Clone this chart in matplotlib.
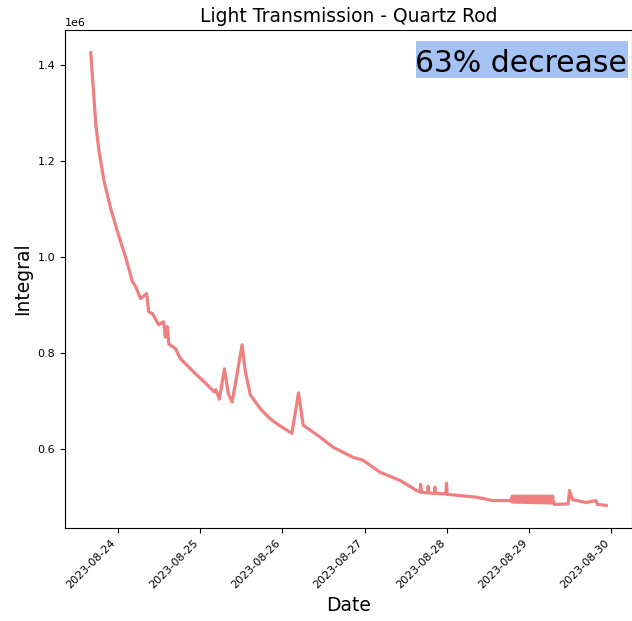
import matplotlib
matplotlib.use("Agg")
import matplotlib.pyplot as plt
import matplotlib.dates as mdates
from matplotlib.patches import Rectangle
import pandas as pd

# hours after 2023-08-24 00:00 and integral (units of 1e6)
hours = [-7.85, -7.07, -6.40, -5.44, -3.99, -2.04, -0.09, 2.33, 4.28, 5.24,
         6.69, 8.44, 9.02, 10.18, 11.93, 13.38, 13.9, 14.46, 14.9, 16.87,
         18.33, 22.11, 26.09, 28.2, 28.6, 29.67, 31.13, 32.29, 33.37, 34.33,
         36.28, 37.24, 38.69, 41.6, 44.51, 47.42, 50.82, 52.74, 54.11, 59.05,
         62.84, 68.65, 71.56, 76.51, 82.33, 87.19, 88.2, 88.35, 88.6, 90.4,
         90.56, 90.75, 92.35, 92.51, 92.7, 95.75, 95.91, 96.1, 104.64, 109.38,
         114.33, 114.9]
integral = [1.425, 1.346, 1.277, 1.220, 1.158, 1.101, 1.053, 0.999, 0.949, 0.938,
            0.913, 0.924, 0.886, 0.882, 0.859, 0.865, 0.833, 0.855, 0.819, 0.809,
            0.788, 0.761, 0.734, 0.719, 0.724, 0.704, 0.767, 0.715, 0.698, 0.736,
            0.817, 0.761, 0.713, 0.684, 0.663, 0.648, 0.633, 0.717, 0.650, 0.625,
            0.604, 0.583, 0.577, 0.552, 0.535, 0.514, 0.511, 0.527, 0.510, 0.509,
            0.523, 0.509, 0.508, 0.521, 0.508, 0.507, 0.529, 0.506, 0.500, 0.493,
            0.493, 0.497]

# noisy stretch on the 29th: readings jump between an upper and lower level
band_hours = [114.9, 120.8, 126.8]
band_hi = [0.503, 0.503, 0.503]
band_lo = [0.491, 0.490, 0.489]

tail_hours = [126.8, 127.4, 131.4, 131.8, 132.65, 136.6, 139.55, 139.9, 142.5]
tail_integral = [0.496, 0.485, 0.486, 0.514, 0.495, 0.489, 0.493, 0.485, 0.483]

t0 = pd.Timestamp("2023-08-24")


def to_times(h):
    return t0 + pd.to_timedelta(h, unit="h")


line_color = "lightcoral"
lw = 2.3

fig = plt.figure(figsize=(6.32, 6.21), dpi=100)
ax = fig.add_axes([65 / 632, 93 / 621, 567 / 632, 498 / 621])

ax.plot(to_times(hours), [v * 1e6 for v in integral], color=line_color, linewidth=lw)
ax.fill_between(to_times(band_hours), [v * 1e6 for v in band_lo],
                [v * 1e6 for v in band_hi], color=line_color, linewidth=lw,
                edgecolor=line_color)
ax.plot(to_times(tail_hours), [v * 1e6 for v in tail_integral], color=line_color, linewidth=lw)

ax.set_title("Light Transmission - Quartz Rod", fontsize=13.5)
ax.set_xlabel("Date", fontsize=13.5)
ax.set_ylabel("Integral", fontsize=13.5)

ax.xaxis.set_major_locator(mdates.DayLocator())
ax.xaxis.set_major_formatter(mdates.DateFormatter("%Y-%m-%d"))
ax.tick_params(labelsize=8)
ax.yaxis.get_offset_text().set_fontsize(8)
plt.setp(ax.get_xticklabels(), rotation=45, ha="right")

# highlighted annotation in the top right corner
ax.add_patch(Rectangle((0.619, 0.904), 0.374, 0.073, transform=ax.transAxes,
                       facecolor="#a4c2f4", edgecolor="none", zorder=3))
ax.text(0.991, 0.916, "63% decrease", transform=ax.transAxes,
        ha="right", va="baseline", fontsize=21.5, zorder=4)

fig.savefig("out.png", dpi=100)
